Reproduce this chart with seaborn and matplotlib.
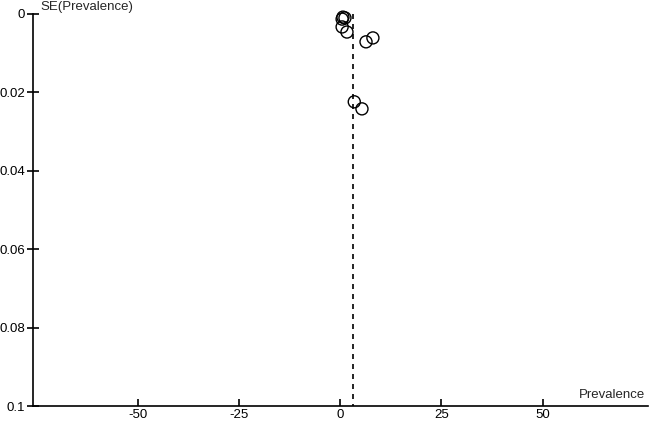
import matplotlib
matplotlib.use("Agg")
import matplotlib.pyplot as plt
import seaborn as sns
import pandas as pd

prevalence = [0.5, 0.7, 1.2, 0.5, 1.7, 6.4, 8.1, 3.5, 5.4]
se_prevalence = [0.0013, 0.0008, 0.0010, 0.0033, 0.0046, 0.0071, 0.0061, 0.0224, 0.0242]
pooled = 3.2
x_ticks = [-50, -25, 0, 25, 50]
y_ticks = [0, 0.02, 0.04, 0.06, 0.08, 0.1]
y_tick_labels = ["0", "0.02", "0.04", "0.06", "0.08", "0.1"]

sns.set_style("white")
plt.rcParams['font.family'] = ['Liberation Sans', 'DejaVu Sans']

df = pd.DataFrame({"Prevalence": prevalence, "SE": se_prevalence})

fig = plt.figure(figsize=(6.49, 4.23), dpi=100)
ax = fig.add_axes([33/649, (423-406)/423, (648-33)/649, (406-14)/423])

sns.scatterplot(data=df, x="Prevalence", y="SE", ax=ax, s=75,
                facecolors="none", edgecolor="black", linewidth=1.0, zorder=3,
                clip_on=False)
ax.plot([pooled, pooled], [0, 0.1], color="black", linestyle=(0, (3, 3)), linewidth=1.2)

ax.set_xlim(-75.8, 76)
ax.set_ylim(0.1, 0)
ax.set_xticks(x_ticks)
ax.set_xticklabels([str(v) for v in x_ticks])
ax.set_yticks(y_ticks)
ax.set_yticklabels(y_tick_labels)
ax.tick_params(axis="both", width=1.2, labelsize=9.5, colors="black",
               bottom=True, left=True)
ax.tick_params(axis="x", direction="in", length=5, pad=2)
ax.tick_params(axis="y", direction="inout", length=8, pad=1.5)
for s in ["top", "right"]:
    ax.spines[s].set_visible(False)
for s in ["left", "bottom"]:
    ax.spines[s].set_color("black")
    ax.spines[s].set_linewidth(1.2)
ax.set_xlabel("")
ax.set_ylabel("")
fig.text(40/649, 1 - 7/423, "SE(Prevalence)", fontsize=9.5, va="center", ha="left")
fig.text(645/649, 1 - 395/423, "Prevalence", fontsize=9.5, va="center", ha="right")
fig.savefig("out.png", dpi=100)
